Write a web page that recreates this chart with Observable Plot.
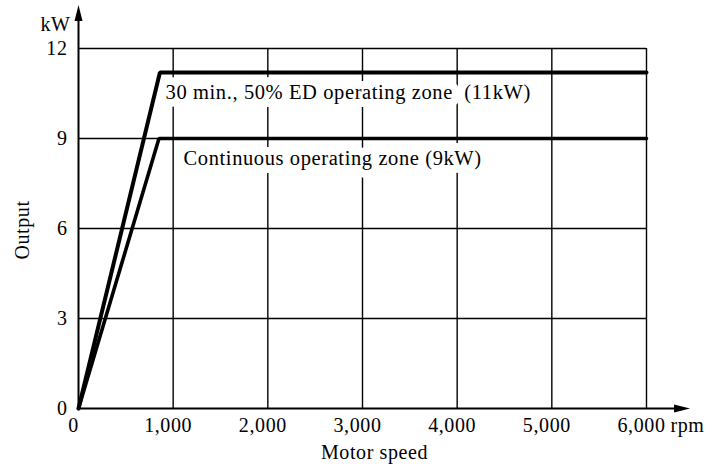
<!DOCTYPE html>
<html>
<head>
<meta charset="utf-8">
<script src="https://cdn.jsdelivr.net/npm/d3@7"></script>
<script src="https://cdn.jsdelivr.net/npm/@observablehq/plot@0.6"></script>
<style>
  html, body { margin: 0; padding: 0; background: #fff; }
  #chart svg { display: block; }
</style>
</head>
<body>
<div id="chart"></div>
<script>
// ---- data ----
const xTicks = [0, 1000, 2000, 3000, 4000, 5000, 6000];
const xTickLabels = ["0", "1,000", "2,000", "3,000", "4,000", "5,000", "6,000"];
const yTicks = [0, 3, 6, 9, 12];
const yTickLabels = ["0", "3", "6", "9", "12"];

const edSpeed = [0, 860, 6000];      // rpm
const edOutput = [0, 11.2, 11.2];    // kW  (30 min., 50% ED)
const contSpeed = [0, 850, 6000];    // rpm
const contOutput = [0, 9, 9];        // kW  (continuous)

const zoneLabels = ["30 min., 50% ED operating zone  (11kW)", "Continuous operating zone (9kW)"];
const zoneLabelX = [920, 1110];
const zoneLabelY = [10.55, 8.35];

const xMax = 6000, yMax = 12;
const xAxisEnd = 6460, yAxisEnd = 13.45;

// ---- build ----
const ed = edSpeed.map((x, i) => ({x, y: edOutput[i]}));
const cont = contSpeed.map((x, i) => ({x, y: contOutput[i]}));
const xt = xTicks.map((v, i) => ({v, label: xTickLabels[i]}));
const yt = yTicks.map((v, i) => ({v, label: yTickLabels[i]}));
const zl = zoneLabels.map((t, i) => ({t, x: zoneLabelX[i], y: zoneLabelY[i]}));

const arrowUp = {draw(c) { c.moveTo(0, 0); c.lineTo(-4, 16); c.lineTo(4, 16); c.closePath(); }};
const arrowRight = {draw(c) { c.moveTo(0, 0); c.lineTo(-16, -4); c.lineTo(-16, 4); c.closePath(); }};

const font = "Liberation Serif";
const ls = "0.6px";

const chart = Plot.plot({
  width: 712,
  height: 469,
  marginLeft: 78,
  marginRight: 66,
  marginTop: 48,
  marginBottom: 61,
  x: {domain: [0, xMax], axis: null},
  y: {domain: [0, yMax], axis: null},
  style: {fontFamily: font, background: "white", letterSpacing: ls},
  marks: [
    // grid
    Plot.ruleX(xTicks.filter(d => d > 0), {y1: 0, y2: yMax, stroke: "black", strokeWidth: 1.4}),
    Plot.ruleY(yTicks.filter(d => d > 0), {x1: 0, x2: xMax, stroke: "black", strokeWidth: 1.4}),
    // zone labels with white backing
    Plot.text(zl, {x: "x", y: "y", text: "t", textAnchor: "start", fontSize: 20.5, fill: "black",
      stroke: "white", strokeWidth: 16, strokeLinejoin: "round", fontFamily: font}),
    // axes
    Plot.ruleY([0], {x1: 0, x2: xAxisEnd - 100, stroke: "black", strokeWidth: 2}),
    Plot.ruleX([0], {y1: 0, y2: yAxisEnd - 0.3, stroke: "black", strokeWidth: 2}),
    Plot.dot([{x: 0, y: yAxisEnd}], {x: "x", y: "y", symbol: arrowUp, fill: "black", stroke: "none"}),
    Plot.dot([{x: xAxisEnd, y: 0}], {x: "x", y: "y", symbol: arrowRight, fill: "black", stroke: "none"}),
    // curves
    Plot.line(cont, {x: "x", y: "y", stroke: "black", strokeWidth: 3.6, strokeLinejoin: "miter"}),
    Plot.line(ed, {x: "x", y: "y", stroke: "black", strokeWidth: 4, strokeLinejoin: "miter"}),
    // tick labels
    Plot.text(xt, {x: "v", y: 0, text: "label", dx: -5, dy: 17, fontSize: 20, fill: "black", fontFamily: font}),
    Plot.text(yt, {x: 0, y: "v", text: "label", textAnchor: "end", dx: -11, fontSize: 20, fill: "black", fontFamily: font}),
    Plot.text(["kW"], {x: 0, y: yAxisEnd, text: d => d, textAnchor: "end", dx: -8, dy: 20, fontSize: 20, fill: "black", fontFamily: font}),
    Plot.text(["rpm"], {x: xMax, y: 0, text: d => d, textAnchor: "start", dx: 24, dy: 17, fontSize: 20, fill: "black", fontFamily: font}),
    // axis titles
    Plot.text(["Motor speed"], {x: xMax / 2, y: 0, text: d => d, dx: 12, dy: 44, fontSize: 20, fill: "black", fontFamily: font}),
    Plot.text(["Output"], {x: 0, y: yMax / 2 - 0.05, text: d => d, rotate: -90, dx: -56, fontSize: 20, fill: "black", fontFamily: font})
  ]
});
document.getElementById("chart").append(chart);
</script>
</body>
</html>
